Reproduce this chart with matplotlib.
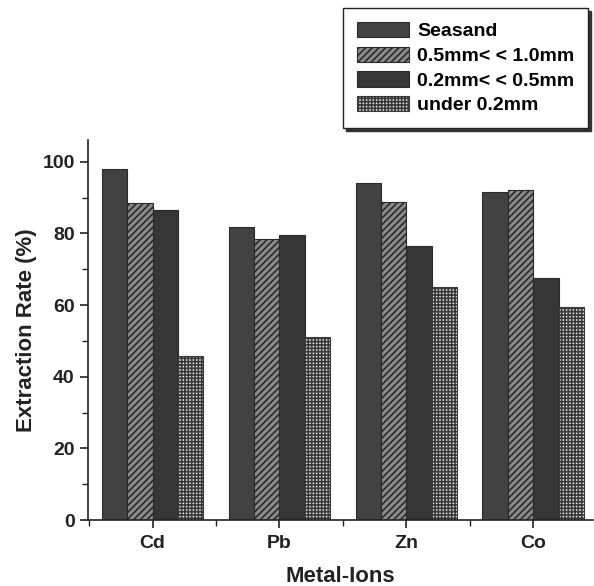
import matplotlib
matplotlib.use("Agg")
import matplotlib.pyplot as plt
import numpy as np
from matplotlib.ticker import MultipleLocator, FixedLocator

categories = ["Cd", "Pb", "Zn", "Co"]
series_names = ["Seasand", "0.5mm< < 1.0mm", "0.2mm< < 0.5mm", "under 0.2mm"]
seasand = [98.0, 81.7, 94.1, 91.7]
mm05_10 = [88.4, 78.5, 88.9, 92.2]
mm02_05 = [86.6, 79.5, 76.4, 67.5]
under02 = [45.7, 51.1, 65.0, 59.4]
yticks = [0, 20, 40, 60, 80, 100]

plt.rcParams['font.family'] = ['Liberation Sans', 'DejaVu Sans']
plt.rcParams['font.weight'] = 'bold'
plt.rcParams['hatch.linewidth'] = 1.2

fig = plt.figure(figsize=(5.94, 5.86), dpi=100)
ax = fig.add_axes([0.148, 0.1126, 0.850, 0.648])

x = np.arange(1, len(categories) + 1)
w = 0.2
styles = [
    dict(color="#424242", hatch=None, edgecolor="#2a2a2a"),
    dict(color="#8a8a8a", hatch="/////", edgecolor="#2a2a2a"),
    dict(color="#363636", hatch=None, edgecolor="#2a2a2a"),
    dict(color="#e6e6e6", hatch="+++++", edgecolor="#3a3a3a"),
]
data = [seasand, mm05_10, mm02_05, under02]
handles = []
for i, (vals, st, name) in enumerate(zip(data, styles, series_names)):
    b = ax.bar(x + (i - 1.5) * w, vals, width=w, color=st["color"],
               edgecolor=st["edgecolor"], hatch=st["hatch"], linewidth=0.8,
               label=name)
    handles.append(b)

ax.set_xlim(0.49, 4.47)
ax.set_ylim(0, 106)
ax.set_xticks(x)
ax.set_xticklabels(categories, fontsize=14, fontweight='bold')
ax.xaxis.set_minor_locator(FixedLocator([0.5, 1.5, 2.5, 3.5, 4.5]))
ax.set_yticks(yticks)
ax.set_yticklabels([str(t) for t in yticks], fontsize=14, fontweight='bold')
ax.yaxis.set_minor_locator(MultipleLocator(10))
ax.tick_params(axis='both', which='major', direction='out', length=6, width=1.2, colors='#222222')
ax.tick_params(axis='both', which='minor', direction='out', length=4, width=1.0, colors='#222222')
ax.tick_params(axis='x', pad=5)
for s in ['top', 'right']:
    ax.spines[s].set_visible(False)
for s in ['left', 'bottom']:
    ax.spines[s].set_linewidth(1.2)
    ax.spines[s].set_color('#222222')

ax.set_xlabel("Metal-Ions", fontsize=16, fontweight='bold', labelpad=10, color='#222222')
ax.set_ylabel("Extraction Rate (%)", fontsize=16, fontweight='bold', labelpad=4, color='#222222')

leg = fig.legend(handles=handles, labels=series_names, loc='upper right',
                 bbox_to_anchor=(0.99, 0.986), borderaxespad=0.0,
                 frameon=True, fancybox=False,
                 shadow={'color': '#333333', 'alpha': 1.0},
                 handlelength=2.7, handleheight=0.85, labelspacing=0.32,
                 borderpad=0.7, handletextpad=0.4,
                 prop={'weight': 'bold', 'size': 14})
leg.get_frame().set_edgecolor('#222222')
leg.get_frame().set_linewidth(1.0)

fig.savefig("out.png", dpi=100)
